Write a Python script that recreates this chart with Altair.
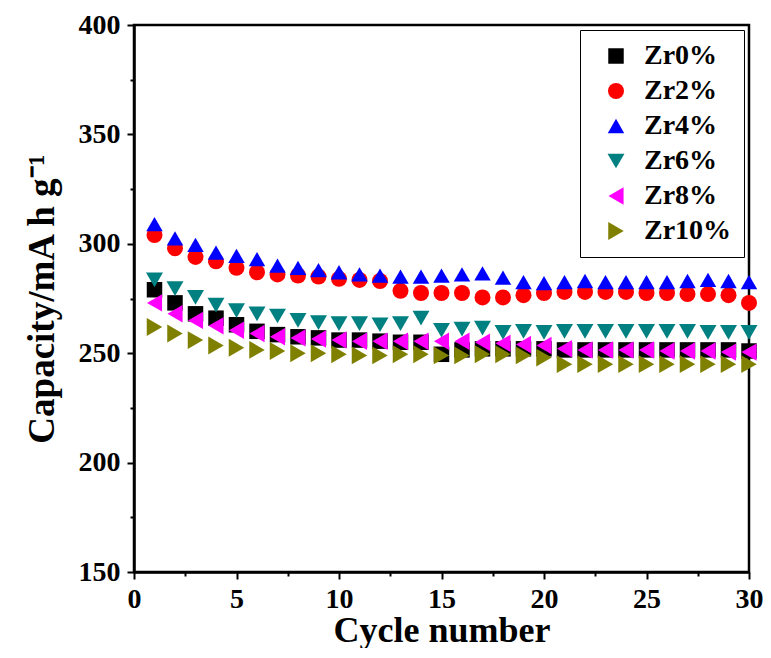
import altair as alt
import pandas as pd

cycles = list(range(1, 31))
series_names = ["Zr0%", "Zr2%", "Zr4%", "Zr6%", "Zr8%", "Zr10%"]
zr0 = [279, 273, 268, 266, 263, 260, 258.5, 257.5, 257, 256, 256, 255.5, 255, 255, 249.5, 251.5, 252, 252, 252, 252,
       251.5, 251.5, 251.5, 251.5, 251.5, 251.5, 251.5, 251.5, 251.5, 251]
zr2 = [304, 298, 294, 292, 289, 287, 286, 285.5, 285, 284, 283.5, 283, 278.5, 277.5, 277.5, 277.5, 275.5, 275.5, 276.5, 277.5,
       278, 278, 278, 278, 277.5, 277.5, 277, 277, 276.5, 273]
zr4 = [309, 302.5, 299.5, 296, 294.5, 293, 290, 289, 288, 287, 286, 285.5, 285, 285, 285.5, 286, 286.5, 284.5, 282.5, 282,
       282.5, 283, 282.5, 282.5, 282.5, 282.5, 283, 283.5, 283, 282.5]
zr6 = [283.5, 279.5, 275.5, 272, 269.5, 268, 267, 265, 264, 263.5, 263.5, 263, 263.5, 266, 260.5, 261, 261.5, 259.5, 260, 259.5,
       260, 260, 260, 260, 260, 260, 260, 259.5, 259.5, 259.5]
zr8 = [273, 268, 265, 262.5, 260.5, 259, 257.5, 257, 256.5, 256, 255.5, 255.5, 255.5, 255.5, 255.5, 255.5, 255, 254.5, 254, 253.5,
       252, 251.5, 251.5, 251.5, 251.5, 251, 251, 251, 250.5, 250.5]
zr10 = [262, 259, 256, 253.5, 252.5, 251.5, 251, 250, 250, 249.5, 249, 249, 249.5, 249.5, 249, 249, 249.5, 249.5, 249, 248,
        245, 245, 245, 245, 245, 245, 245, 245, 245, 245]
colors = ["#000000", "#ff0000", "#0000ff", "#008080", "#ff00ff", "#808000"]
shapes = ["square", "circle", "triangle-up", "triangle-down", "triangle-left", "triangle-right"]
sizes = [240, 320, 440, 440, 440, 440]

rows = []
for name, vals in zip(series_names, [zr0, zr2, zr4, zr6, zr8, zr10]):
    for c, v in zip(cycles, vals):
        rows.append({"Cycle": c, "Capacity": v, "Series": name})
df = pd.DataFrame(rows)

FONT = "Liberation Serif"

x_ticks = [i * 2.5 for i in range(13)]
y_ticks = [150 + i * 25 for i in range(11)]

legend = alt.Legend(title=None, orient="top-right", offset=5,
                    strokeColor="black", fillColor="white", padding=12,
                    labelFont=FONT, labelFontSize=28, labelFontWeight="bold", labelColor="black",
                    symbolStrokeWidth=0, rowPadding=7, symbolOpacity=1,
                    symbolOffset=10, labelOffset=14)

chart = alt.Chart(df).mark_point(filled=True, opacity=1, strokeWidth=0).encode(
    x=alt.X("Cycle:Q",
            scale=alt.Scale(domain=[0, 30], nice=False, zero=False),
            axis=alt.Axis(title="Cycle number", values=x_ticks,
                          labelExpr="datum.value % 5 === 0 ? datum.label : ''",
                          tickSize={"condition": {"test": "datum.value % 5 === 0", "value": 7}, "value": 4},
                          labelPadding=6, titlePadding=0, titleFontSize=36,
                          labelFlush=False, labelOverlap=False)),
    y=alt.Y("Capacity:Q",
            scale=alt.Scale(domain=[150, 400], nice=False, zero=False),
            axis=alt.Axis(title="Capacity/mA h g⁻¹", values=y_ticks,
                          labelExpr="datum.value % 50 === 0 ? datum.label : ''",
                          tickSize={"condition": {"test": "datum.value % 50 === 0", "value": 7}, "value": 4},
                          labelPadding=7, titlePadding=17, labelFlush=False, labelOverlap=False)),
    color=alt.Color("Series:N", scale=alt.Scale(domain=series_names, range=colors),
                    sort=series_names, legend=legend),
    shape=alt.Shape("Series:N", scale=alt.Scale(domain=series_names, range=shapes), sort=series_names,
                    legend=legend),
    size=alt.Size("Series:N", scale=alt.Scale(domain=series_names, range=sizes), sort=series_names,
                  legend=legend),
    order=alt.Order("order:Q"),
).transform_calculate(
    order="indexof(['Zr0%','Zr2%','Zr4%','Zr6%','Zr8%','Zr10%'], datum.Series)"
).properties(
    width=755, height=640,
    autosize=alt.AutoSizeParams(type="fit", contains="padding"),
    padding={"left": 15, "top": 3, "right": 0, "bottom": 0}
).configure_view(
    stroke="black", strokeWidth=2.5
).configure_axis(
    domainColor="black", domainWidth=2.5, tickColor="black", tickWidth=2,
    grid=False, labelFont=FONT, labelFontSize=28, labelFontWeight="bold", labelColor="black",
    titleFont=FONT, titleFontSize=37, titleFontWeight="bold", titleColor="black"
)

chart.save("out.html", embed_options={"renderer": "svg", "actions": False})
